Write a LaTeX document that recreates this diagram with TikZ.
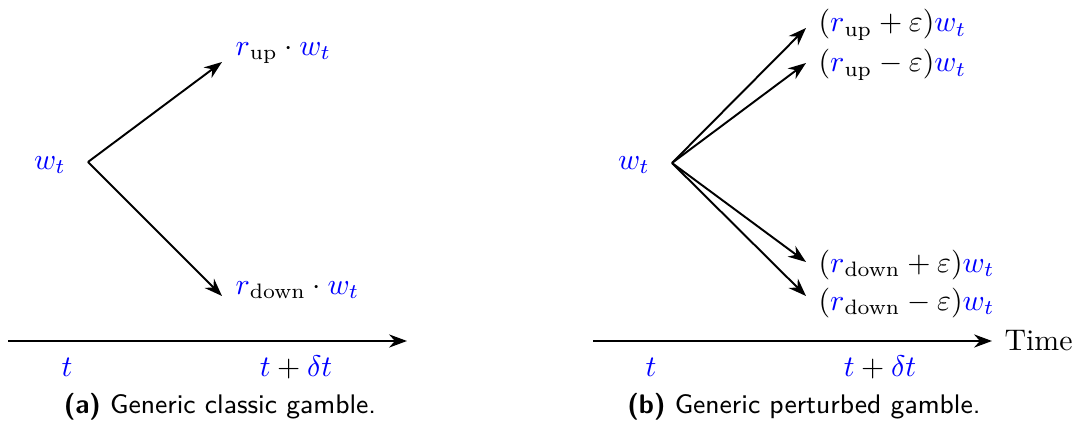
\documentclass[tikz,border=0pt]{standalone}
\usepackage{amsmath,amssymb}
\usetikzlibrary{arrows.meta,positioning}

\newcommand{\blu}[1]{\textcolor{blue}{#1}}

\begin{document}
\begin{tikzpicture}[
    x=0.335pt, y=-0.335pt,
    lbl/.style={inner sep=0pt, anchor=west},
    arr/.style={-{Stealth[length=6pt, width=4.4pt]}, line width=0.65pt},
    captxt/.style={font=\sffamily\small},
]
\useasboundingbox (0,0) rectangle (1073,424);

% (a) classic gamble: one step up, one step down
\node[blue] (wa) at (50,165) {$w_t$};
\coordinate (oa) at (88,162);
\coordinate (upa) at (222,62);
\coordinate (dna) at (222,296);
\node[lbl] (rupa) at (235,53) {$\blu{r}_{\text{up}}\cdot\blu{w_t}$};
\node[lbl] (rdna) at (235,290) {$\blu{r}_{\text{down}}\cdot\blu{w_t}$};
\draw[arr] (oa) -- (upa);
\draw[arr] (oa) -- (dna);

% time axis (a)
\coordinate (ta0) at (8,341);
\coordinate (ta1) at (407,341);
\draw[arr] (ta0) -- (ta1);
\node[blue] (tta) at (67,367) {$t$};
\node (tdta) at (296,367) {$\blu{t}+\blu{\delta t}$};
\node[captxt] (capa) at (220,407) {\textbf{(a)} Generic classic gamble.};

% (b) perturbed gamble: each step split by +/- epsilon
\node[blue] (wb) at (634,165) {$w_t$};
\coordinate (ob) at (672,163);
\coordinate (upp) at (806,28);
\coordinate (upm) at (806,63);
\coordinate (dnp) at (806,262);
\coordinate (dnm) at (806,296);
\node[lbl] (rupp) at (818,25) {$(\blu{r}_{\text{up}}+\varepsilon)\blu{w_t}$};
\node[lbl] (rupm) at (818,65) {$(\blu{r}_{\text{up}}-\varepsilon)\blu{w_t}$};
\node[lbl] (rdnp) at (818,265) {$(\blu{r}_{\text{down}}+\varepsilon)\blu{w_t}$};
\node[lbl] (rdnm) at (818,303) {$(\blu{r}_{\text{down}}-\varepsilon)\blu{w_t}$};
\draw[arr] (ob) -- (upp);
\draw[arr] (ob) -- (upm);
\draw[arr] (ob) -- (dnp);
\draw[arr] (ob) -- (dnm);

% time axis (b)
\coordinate (tb0) at (593,341);
\coordinate (tb1) at (992,341);
\node[inner sep=0pt, right=4pt of tb1] (time) {Time};
\draw[arr] (tb0) -- (tb1);
\node[blue] (ttb) at (651,367) {$t$};
\node (tdtb) at (880,367) {$\blu{t}+\blu{\delta t}$};
\node[captxt] (capb) at (804,407) {\textbf{(b)} Generic perturbed gamble.};
\end{tikzpicture}
\end{document}
